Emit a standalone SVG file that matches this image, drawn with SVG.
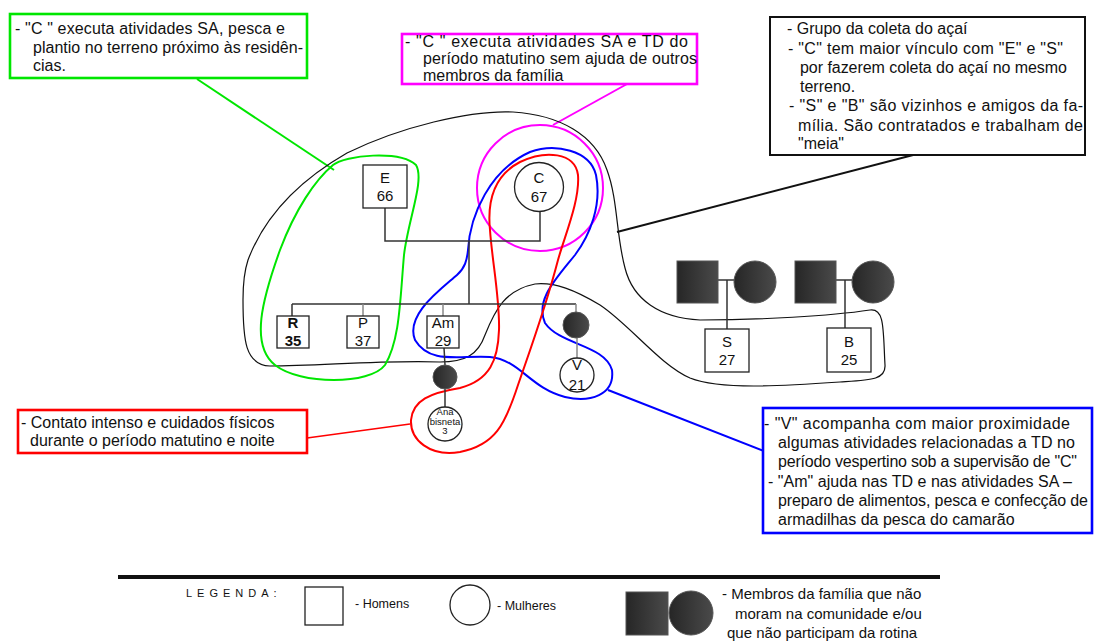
<svg xmlns="http://www.w3.org/2000/svg" width="1094" height="642" viewBox="0 0 1094 642">
<defs>
<linearGradient id="dk" x1="0" y1="0" x2="1" y2="0">
<stop offset="0" stop-color="#262626"/>
<stop offset="1" stop-color="#4a4a4a"/>
</linearGradient>
<style>
text{font-family:"Liberation Sans",Arial,sans-serif;fill:#111}
.t{font-size:16px}
.n{font-size:15px;text-anchor:middle}
.b{font-weight:bold}
.box{fill:#fff}
.node{fill:#fff;stroke:#222;stroke-width:1.3}
.dark{fill:url(#dk);stroke:#555;stroke-width:1}
.ln{stroke:#333;stroke-width:1.5;fill:none}
.lg{stroke:#888;stroke-width:1.5;fill:none}
.loop{fill:none;stroke-width:2}
.loopk{fill:none;stroke:#111;stroke-width:1.2}
</style>
</defs>
<rect width="1094" height="642" fill="#fff"/>

<g id="connectors">
<line x1="197" y1="79" x2="334" y2="170" stroke="#00e600" stroke-width="2"/>
<line x1="627" y1="84" x2="553" y2="125" stroke="#ff00ff" stroke-width="2"/>
<line x1="917" y1="154" x2="617" y2="232" stroke="#111" stroke-width="2"/>
<line x1="307" y1="438" x2="410" y2="424" stroke="#ff0000" stroke-width="1.6"/>
<line x1="608" y1="390" x2="764" y2="451" stroke="#0000ff" stroke-width="2"/>
<path class="loopk" d="M 248,260 C 265,215 300,180 347,153 C 400,127 470,110 513,112 C 560,115 595,135 607,170 C 618,200 616,235 625,268 C 633,300 660,318 700,320 C 760,320 830,316 870,310 C 885,308 883,330 885,365 C 886,380 870,380 840,382 C 780,386 720,390 690,378 C 660,365 630,325 600,305 C 575,290 555,282 535,284 C 505,290 495,310 485,335 C 478,355 465,362 440,362 C 380,360 320,366 270,366 C 245,365 243,340 243,300 C 243,285 244,272 248,260 Z"/>
<path class="loop" stroke="#00e600" d="M 333,165 C 345,155 400,150 416,165 C 425,180 408,220 404,255 C 400,300 400,340 385,365 C 370,385 300,385 275,365 C 250,345 262,300 280,250 C 295,210 315,180 333,165 Z"/>
<circle class="loop" stroke="#ff00ff" cx="540" cy="188" r="63"/>
<path class="loop" stroke="#0000ff" d="M 468,250 C 470,215 490,170 530,152 C 555,143 590,150 596,175 C 602,205 590,235 575,255 C 555,280 535,300 545,323 C 560,345 605,345 612,370 C 615,395 590,403 565,397 C 530,388 520,360 490,357 C 460,355 430,365 415,340 C 405,315 440,290 457,275 C 465,268 467,260 468,250 Z"/>
<path class="loop" stroke="#ff0000" d="M 490,230 C 487,200 495,175 520,162 C 545,150 575,152 578,175 C 580,200 565,235 558,260 C 545,310 530,350 518,385 C 505,425 495,445 460,452 C 430,457 410,440 411,420 C 413,400 430,393 460,388 C 490,380 498,360 499,330 C 500,300 492,260 490,230 Z"/>
<polyline class="ln" points="385,208 385,241 540,241 540,212"/>
<line class="ln" x1="469" y1="241" x2="469" y2="304"/>
<line class="ln" x1="292" y1="304" x2="576" y2="304"/>
<line class="ln" x1="292" y1="304" x2="292" y2="316"/>
<line class="lg" x1="363" y1="304" x2="363" y2="316"/>
<line class="lg" x1="443" y1="304" x2="443" y2="316"/>
<line class="lg" x1="576" y1="304" x2="576" y2="312"/>
<line class="lg" x1="577" y1="338" x2="577" y2="358"/>
<line class="ln" x1="444" y1="348" x2="445" y2="365"/>
<line class="ln" x1="445" y1="389" x2="445" y2="407"/>
<line class="ln" x1="718" y1="280" x2="735" y2="280"/>
<line class="ln" x1="727" y1="280" x2="727" y2="329"/>
<line class="ln" x1="836" y1="280" x2="852" y2="280"/>
<line class="ln" x1="845" y1="280" x2="845" y2="328"/>
</g>

<g id="note-green">
<rect class="box" x="10" y="14" width="297" height="64" stroke="#00e600" stroke-width="2.6"/>
<text class="t" x="15" y="34" textLength="270" lengthAdjust="spacing">-  "C " executa atividades SA, pesca e</text>
<text class="t" x="33" y="53" textLength="270" lengthAdjust="spacing">plantio no terreno próximo às residên-</text>
<text class="t" x="33" y="71">cias.</text>
</g>

<g id="note-magenta">
<rect class="box" x="402" y="34" width="295" height="50" stroke="#ff00ff" stroke-width="2.6"/>
<text class="t" x="405" y="47" textLength="283" lengthAdjust="spacing">-  "C "  executa  atividades SA  e  TD do</text>
<text class="t" x="423" y="64" textLength="274" lengthAdjust="spacing">período matutino sem ajuda de outros</text>
<text class="t" x="423" y="81">membros da família</text>
</g>

<g id="note-black">
<rect class="box" x="770" y="17" width="315" height="138" stroke="#111" stroke-width="2"/>
<text class="t" x="787" y="34">- Grupo da coleta do açaí</text>
<text class="t" x="788" y="54" textLength="275" lengthAdjust="spacing">-  "C" tem maior vínculo com "E" e  "S"</text>
<text class="t" x="800" y="73" textLength="267" lengthAdjust="spacing">por fazerem coleta do açaí no mesmo</text>
<text class="t" x="800" y="92">terreno.</text>
<text class="t" x="789" y="111" textLength="294" lengthAdjust="spacing">-  "S" e  "B" são vizinhos e amigos da fa-</text>
<text class="t" x="798" y="131" textLength="285" lengthAdjust="spacing">mília. São contratados e trabalham de</text>
<text class="t" x="798" y="149">"meia"</text>
</g>

<g id="note-red">
<rect class="box" x="18" y="410" width="289" height="43" stroke="#ff0000" stroke-width="2.6"/>
<text class="t" x="21" y="428">- Contato intenso e cuidados físicos</text>
<text class="t" x="30" y="446">durante o período matutino e noite</text>
</g>

<g id="note-blue">
<rect class="box" x="763" y="408" width="329" height="125" stroke="#0000ff" stroke-width="2.6"/>
<text class="t" x="764" y="429" textLength="306" lengthAdjust="spacing">- "V"  acompanha  com  maior  proximidade</text>
<text class="t" x="778" y="448" textLength="297" lengthAdjust="spacing">algumas  atividades  relacionadas a TD no</text>
<text class="t" x="778" y="467" textLength="299" lengthAdjust="spacing">período vespertino sob a supervisão de "C"</text>
<text class="t" x="768" y="487" textLength="304" lengthAdjust="spacing">- "Am"  ajuda  nas  TD e nas atividades  SA –</text>
<text class="t" x="778" y="506" textLength="310" lengthAdjust="spacing">preparo de alimentos, pesca e confecção de</text>
<text class="t" x="778" y="525">armadilhas da pesca do camarão</text>
</g>

<g id="node-E">
<rect class="node" x="363" y="165" width="44" height="43"/>
<text class="n" x="385" y="183">E</text>
<text class="n" x="385" y="201">66</text>
</g>
<g id="node-C">
<circle class="node" cx="539" cy="187" r="24.5"/>
<text class="n" x="539" y="183">C</text>
<text class="n" x="539" y="202">67</text>
</g>
<g id="node-R">
<rect class="node" x="277" y="316" width="32" height="32" stroke-width="1.6"/>
<text class="n b" x="293" y="328">R</text>
<text class="n b" x="293" y="346">35</text>
</g>
<g id="node-P">
<rect class="node" x="347" y="316" width="32" height="32"/>
<text class="n" x="363" y="328">P</text>
<text class="n" x="363" y="346">37</text>
</g>
<g id="node-Am">
<rect class="node" x="427" y="316" width="32" height="32"/>
<text class="n" x="443" y="328">Am</text>
<text class="n" x="443" y="346">29</text>
</g>
<g id="node-dark-child">
<circle class="dark" cx="576" cy="325" r="13"/>
</g>
<g id="node-V">
<circle class="node" cx="577" cy="375" r="17"/>
<text class="n" x="577" y="370">V</text>
<text class="n" x="577" y="390">21</text>
</g>
<g id="node-Am-partner">
<circle class="dark" cx="445" cy="377" r="12"/>
</g>
<g id="node-Ana">
<circle class="node" cx="445" cy="424" r="17"/>
<text x="445" y="415" font-size="9.5" text-anchor="middle">Ana</text>
<text x="445" y="424.5" font-size="9.5" text-anchor="middle">bisneta</text>
<text x="445" y="434" font-size="9.5" text-anchor="middle">3</text>
</g>
<g id="node-S-father"><rect class="dark" x="677" y="261" width="41" height="42"/></g>
<g id="node-S-mother"><circle class="dark" cx="755" cy="282" r="21"/></g>
<g id="node-S">
<rect class="node" x="705" y="329" width="44" height="43"/>
<text class="n" x="727" y="347">S</text>
<text class="n" x="727" y="365">27</text>
</g>
<g id="node-B-father"><rect class="dark" x="795" y="261" width="41" height="42"/></g>
<g id="node-B-mother"><circle class="dark" cx="873" cy="282" r="21"/></g>
<g id="node-B">
<rect class="node" x="827" y="328" width="44" height="44"/>
<text class="n" x="849" y="347">B</text>
<text class="n" x="849" y="365">25</text>
</g>

<g id="legend">
<line x1="118" y1="577" x2="940" y2="577" stroke="#111" stroke-width="4"/>
<text x="186" y="597" font-size="11" letter-spacing="5">LEGENDA:</text>
<rect class="node" x="305" y="587" width="38" height="38"/>
<text x="355" y="608" font-size="12.5">- Homens</text>
<circle class="node" cx="470" cy="605" r="20"/>
<text x="497" y="610" font-size="12.5">- Mulheres</text>
<rect class="dark" x="626" y="592" width="42" height="43"/>
<circle class="dark" cx="691" cy="613" r="22"/>
<text x="722" y="599" font-size="15">- Membros da família que não</text>
<text x="735" y="619" font-size="15">moram na comunidade e/ou</text>
<text x="727" y="638" font-size="15">que não participam da rotina</text>
</g>
</svg>
